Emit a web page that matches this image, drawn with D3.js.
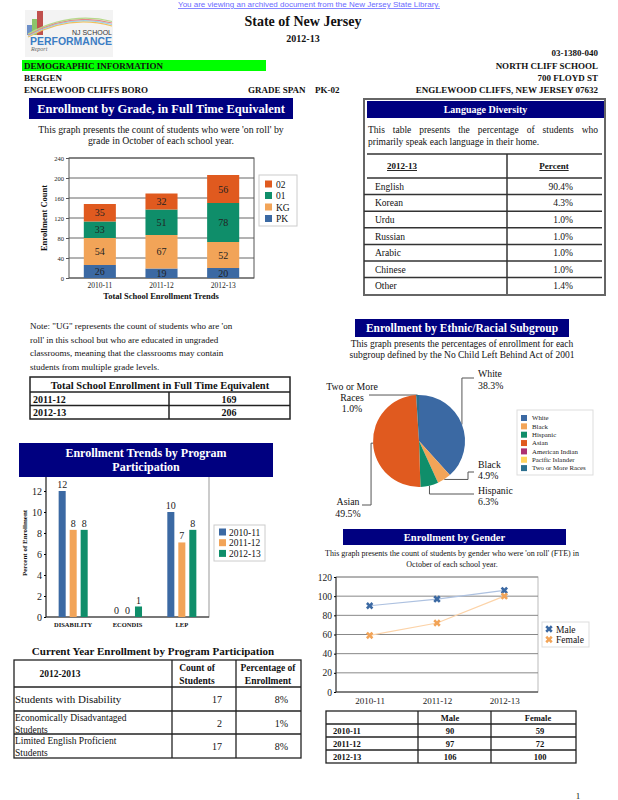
<!DOCTYPE html>
<html>
<head>
<meta charset="utf-8">
<script src="https://cdn.jsdelivr.net/npm/d3@7"></script>
<style>
  body { margin: 0; background: #fff; }
  svg { display: block; font-family: "Liberation Serif", "Times New Roman", serif; }
</style>
</head>
<body>
<svg id="page" width="618" height="800"></svg>
<script>
// ---- datos ----
var years = ["2010-11", "2011-12", "2012-13"];

var grades   = ["PK", "KG", "01", "02"];
var gradePK  = [26, 19, 20];
var gradeKG  = [54, 67, 52];
var grade01  = [33, 51, 78];
var grade02  = [35, 32, 56];
var gradeTicks = [0, 40, 80, 120, 160, 200, 240];

var langNames   = ["English", "Korean", "Urdu", "Russian", "Arabic", "Chinese", "Other"];
var langPercent = ["90.4%", "4.3%", "1.0%", "1.0%", "1.0%", "1.0%", "1.4%"];

var totalYears = ["2011-12", "2012-13"];
var totalFTE   = [169, 206];

var ethnicGroups = ["White", "Black", "Hispanic", "Asian", "American Indian", "Pacific Islander", "Two or More Races"];
var ethnicPct    = [38.3, 4.9, 6.3, 49.5, 0, 0, 1.0];

var programs  = ["DISABILITY", "ECONDIS", "LEP"];
var prog1011  = [12, 0, 10];
var prog1112  = [8.3, 0, 7.1];
var prog1213  = [8.3, 1.0, 8.3];
var progTicks = [0, 2, 4, 6, 8, 10, 12];

var progRowNames = [["Students with Disability"], ["Economically Disadvantaged", "Students"], ["Limited English Proficient", "Students"]];
var progCounts   = [17, 2, 17];
var progPercents = ["8%", "1%", "8%"];

var genderMale   = [90, 97, 106];
var genderFemale = [59, 72, 100];
var genderTicks  = [0, 20, 40, 60, 80, 100, 120];

// ---- colores ----
var navy = "#000080";
var cBlue = "#3b69a3", cOrange = "#f2a458", cGreen = "#0f8e6a", cRed = "#e05a1f";

var svg = d3.select("#page");

function txt(g, x, y, s, size, opts) {
    opts = opts || {};
    var t = g.append("text")
        .attr("x", x).attr("y", y)
        .attr("font-size", size)
        .attr("text-anchor", opts.anchor || "start")
        .attr("fill", opts.fill || "#111")
        .text(s);
    if (opts.bold) t.attr("font-weight", "bold");
    if (opts.family) t.attr("font-family", opts.family);
    if (opts.italic) t.attr("font-style", "italic");
    if (opts.underline) t.attr("text-decoration", "underline");
    return t;
}

function titleBar(x, y, w, h, lines, size) {
    svg.append("rect").attr("x", x).attr("y", y).attr("width", w).attr("height", h).attr("fill", navy);
    var lh = size * 1.2;
    var y0 = y + h / 2 - (lines.length - 1) * lh / 2 + size * 0.35;
    lines.forEach(function (l, i) {
        txt(svg, x + w / 2, y0 + i * lh, l, size, {anchor: "middle", bold: true, fill: "#fff"});
    });
}

// justificar una linea repartiendo espacio entre palabras
function justify(g, s, x0, x1, y, size) {
    var words = s.split(" ");
    var nodes = words.map(function (w) { return txt(g, 0, y, w, size); });
    var widths = nodes.map(function (n) { return n.node().getComputedTextLength(); });
    var gap = (x1 - x0 - d3.sum(widths)) / (words.length - 1);
    var x = x0;
    nodes.forEach(function (n, i) { n.attr("x", x); x += widths[i] + gap; });
}

// ---- encabezado ----
txt(svg, 309, 7, "You are viewing an archived document from the New Jersey State Library.", 8,
    {anchor: "middle", fill: "#6a6aff", family: "Liberation Sans, Arial, sans-serif", underline: true});

// logo
var logo = svg.append("g");
logo.append("rect").attr("x", 25).attr("y", 10).attr("width", 88).attr("height", 47).attr("fill", "#f3f3f3");
logo.append("rect").attr("x", 27).attr("y", 25).attr("width", 5).attr("height", 10).attr("fill", "#6d8fc8");
logo.append("rect").attr("x", 32).attr("y", 19).attr("width", 5).attr("height", 16).attr("fill", "#8cc46a");
logo.append("rect").attr("x", 37).attr("y", 11).attr("width", 6).attr("height", 24).attr("fill", "#c0504d");
["#f4c05a", "#9cd3e8", "#e68a8a", "#b7d98b"].forEach(function (c, i) {
    logo.append("path")
        .attr("d", "M28," + (37 - i) + " Q70," + (14 - i) + " 112," + (26 - i * 1.5))
        .attr("fill", "none").attr("stroke", c).attr("stroke-width", 1.2);
});
txt(logo, 112, 35, "NJ SCHOOL", 7, {anchor: "end", fill: "#333", family: "Liberation Sans, Arial, sans-serif"});
txt(logo, 30, 45, "PERFORMANCE", 10, {bold: true, fill: "#3b7dc4", family: "Liberation Sans, Arial, sans-serif"})
    .attr("textLength", 82).attr("lengthAdjust", "spacingAndGlyphs");
txt(logo, 31, 51, "Report", 6, {italic: true, fill: "#666"});

txt(svg, 303, 26, "State of New Jersey", 14, {anchor: "middle", bold: true});
txt(svg, 303, 42, "2012-13", 10, {anchor: "middle", bold: true});
txt(svg, 598, 56, "03-1380-040", 9, {anchor: "end", bold: true});
svg.append("rect").attr("x", 22).attr("y", 60).attr("width", 244).attr("height", 11).attr("fill", "#00ff00");
txt(svg, 24, 69, "DEMOGRAPHIC INFORMATION", 9, {bold: true});
txt(svg, 598, 69, "NORTH CLIFF SCHOOL", 9, {anchor: "end", bold: true});
txt(svg, 24, 81, "BERGEN", 9, {bold: true});
txt(svg, 598, 81, "700 FLOYD ST", 9, {anchor: "end", bold: true});
txt(svg, 24, 93, "ENGLEWOOD CLIFFS BORO", 9, {bold: true});
txt(svg, 248, 93, "GRADE SPAN", 9, {bold: true});
txt(svg, 315, 93, "PK-02", 9, {bold: true});
txt(svg, 598, 93, "ENGLEWOOD CLIFFS, NEW JERSEY 07632", 9, {anchor: "end", bold: true});

// ---- Enrollment by Grade ----
function buildGradeChart() {
    titleBar(29, 98, 264, 21, ["Enrollment by Grade, in Full Time Equivalent"], 12.5);
    txt(svg, 161, 133, "This graph presents the count of students who were 'on roll' by", 9.8, {anchor: "middle"});
    txt(svg, 161, 144, "grade in October of each school year.", 9.8, {anchor: "middle"});

    var left = 69, right = 254, top = 158, bottom = 278;
    var rows = years.map(function (y, i) {
        return {year: y, PK: gradePK[i], KG: gradeKG[i], "01": grade01[i], "02": grade02[i]};
    });
    var stack = d3.stack().keys(grades)(rows);
    var color = d3.scaleOrdinal().domain(grades).range([cBlue, cOrange, cGreen, cRed]);

    var x = d3.scaleBand().domain(years).range([left, right]).paddingInner(0.48).paddingOuter(0.24);
    var y = d3.scaleLinear().domain([0, 240]).range([bottom, top]);

    var g = svg.append("g");
    g.selectAll(".grid").data(gradeTicks).enter().append("line")
        .attr("x1", left).attr("x2", right)
        .attr("y1", function (d) { return y(d); }).attr("y2", function (d) { return y(d); })
        .attr("stroke", "#666").attr("stroke-width", 1);
    g.append("rect").attr("x", left).attr("y", top).attr("width", right - left).attr("height", bottom - top)
        .attr("fill", "none").attr("stroke", "#555");

    var layer = g.selectAll(".layer").data(stack).enter().append("g")
        .attr("fill", function (d) { return color(d.key); });
    layer.selectAll("rect").data(function (d) { return d; }).enter().append("rect")
        .attr("x", function (d) { return x(d.data.year); })
        .attr("y", function (d) { return y(d[1]); })
        .attr("width", x.bandwidth())
        .attr("height", function (d) { return y(d[0]) - y(d[1]); });
    layer.selectAll("text").data(function (d) { return d; }).enter().append("text")
        .attr("x", function (d) { return x(d.data.year) + x.bandwidth() / 2; })
        .attr("y", function (d) { return (y(d[0]) + y(d[1])) / 2 + 3.5; })
        .attr("text-anchor", "middle").attr("font-size", 10).attr("fill", "#222")
        .text(function (d) { return d[1] - d[0]; });

    var yAxis = d3.axisLeft(y).tickValues(gradeTicks).tickSize(3).tickPadding(2);
    var ya = g.append("g").attr("transform", "translate(" + left + ",0)").call(yAxis);
    ya.select(".domain").remove();
    ya.selectAll("text").attr("font-size", 6.5).attr("font-family", "Liberation Serif, serif").attr("fill", "#222");
    ya.selectAll("line").attr("stroke", "#555");

    var xAxis = d3.axisBottom(x).tickSize(0).tickPadding(5);
    var xa = g.append("g").attr("transform", "translate(0," + bottom + ")").call(xAxis);
    xa.select(".domain").remove();
    xa.selectAll("text").attr("font-size", 7.5).attr("font-family", "Liberation Serif, serif").attr("fill", "#222");

    txt(g, 161, 299, "Total School Enrollment Trends", 8.5, {anchor: "middle", bold: true});
    txt(g, 0, 0, "Enrollment Count", 8.5, {anchor: "middle", bold: true})
        .attr("transform", "translate(47," + (top + bottom) / 2 + ") rotate(-90)");

    // leyenda
    var lg = g.append("g");
    lg.append("rect").attr("x", 259).attr("y", 175).attr("width", 38).attr("height", 51)
        .attr("fill", "#fff").attr("stroke", "#ccc");
    grades.slice().reverse().forEach(function (k, i) {
        lg.append("rect").attr("x", 265).attr("y", 180.5 + i * 11.5).attr("width", 7).attr("height", 7).attr("fill", color(k));
        txt(lg, 276, 187.5 + i * 11.5, k, 9.5);
    });
}

// ---- Language Diversity ----
function buildLanguageTable() {
    var g = svg.append("g");
    g.append("rect").attr("x", 364).attr("y", 99).attr("width", 241).attr("height", 196)
        .attr("fill", "none").attr("stroke", "#666").attr("stroke-width", 2);
    titleBar(367, 101, 237, 17, ["Language Diversity"], 10);
    justify(g, "This table presents the percentage of students who", 368, 598, 133, 9.5);
    txt(g, 368, 145, "primarily speak each language in their home.", 9.5);

    var rowTop = 178, rowH = 16.6;
    var lines = [154].concat(langNames.map(function (d, i) { return rowTop + i * rowH; }));
    g.selectAll(".hl").data(lines).enter().append("line")
        .attr("x1", function (d, i) { return i < 2 ? 367 : 364; }).attr("x2", 602)
        .attr("y1", function (d) { return d; }).attr("y2", function (d) { return d; })
        .attr("stroke", "#333").attr("stroke-width", 1.5);
    g.append("line").attr("x1", 507).attr("x2", 507).attr("y1", 154).attr("y2", 294)
        .attr("stroke", "#333").attr("stroke-width", 1.5);

    txt(g, 402, 169, "2012-13", 9, {anchor: "middle", bold: true, underline: true});
    txt(g, 554, 169, "Percent", 9, {anchor: "middle", bold: true, underline: true});
    langNames.forEach(function (n, i) {
        var yy = rowTop + i * rowH + rowH / 2 + 3.5;
        txt(g, 375, yy, n, 9.5);
        txt(g, 573, yy, langPercent[i], 9.5, {anchor: "end"});
    });
}

// ---- nota y total ----
function buildNoteAndTotal() {
    var g = svg.append("g");
    ["Note: \"UG\" represents the count of students who are 'on",
     "roll' in this school but who are educated in ungraded",
     "classrooms, meaning that the classrooms may contain",
     "students from multiple grade levels."].forEach(function (l, i) {
        txt(g, 30, 329 + i * 13.7, l, 9);
    });

    var x0 = 30, x1 = 290, ys = [377, 392, 405.5, 419];
    g.append("rect").attr("x", x0).attr("y", ys[0]).attr("width", x1 - x0).attr("height", ys[3] - ys[0])
        .attr("fill", "none").attr("stroke", "#222").attr("stroke-width", 1.5);
    [ys[1], ys[2]].forEach(function (yy) {
        g.append("line").attr("x1", x0).attr("x2", x1).attr("y1", yy).attr("y2", yy).attr("stroke", "#222").attr("stroke-width", 1.5);
    });
    g.append("line").attr("x1", 169).attr("x2", 169).attr("y1", ys[1]).attr("y2", ys[3]).attr("stroke", "#222").attr("stroke-width", 1.5);
    txt(g, 160, 389, "Total School Enrollment in Full Time Equivalent", 10.5, {anchor: "middle", bold: true});
    totalYears.forEach(function (yr, i) {
        txt(g, 33, ys[i + 1] + 10.5, yr, 10, {bold: true});
        txt(g, 229, ys[i + 1] + 10.5, totalFTE[i], 10, {anchor: "middle", bold: true});
    });
}

// ---- Ethnic pie ----
function buildEthnicPie() {
    titleBar(355, 319, 214, 18, ["Enrollment by Ethnic/Racial Subgroup"], 11.5);
    txt(svg, 462, 347, "This graph presents the percentages of enrollment for each", 9.5, {anchor: "middle"});
    txt(svg, 462, 358, "subgroup defined by the No Child Left Behind Act of 2001", 9.5, {anchor: "middle"});

    var cx = 419, cy = 441, r = 46;
    var color = d3.scaleOrdinal().domain(ethnicGroups)
        .range([cBlue, cOrange, cGreen, cRed, "#ad2f72", "#ffd35e", "#2b6f8e"]);
    var arcs = d3.pie().sort(null).value(function (d) { return d; })(ethnicPct);
    var g = svg.append("g");

    function edge(a) {
        var m = (a.startAngle + a.endAngle) / 2;
        return [cx + r * Math.sin(m), cy - r * Math.cos(m)];
    }
    var p0 = edge(arcs[0]), p1 = edge(arcs[1]), p2 = edge(arcs[2]), p3 = edge(arcs[3]), p6 = edge(arcs[6]);
    var leaders = [
        [p0, [p0[0], 378], [474, 378]],
        [p1, [468, p1[1]], [468, 472], [474, 472]],
        [p2, [p2[0], 494], [474, 494]],
        [p3, [p3[0] - 2, p3[1]], [p3[0] - 2, 505], [362, 505]],
        [p6, [369, p6[1]]]
    ];
    g.selectAll(".leader").data(leaders).enter().append("path")
        .attr("d", d3.line())
        .attr("fill", "none").attr("stroke", "#555").attr("stroke-width", 1);

    var arc = d3.arc().innerRadius(0).outerRadius(r);
    g.append("g").attr("transform", "translate(" + cx + "," + cy + ")")
        .selectAll("path").data(arcs).enter().append("path")
        .attr("d", arc)
        .attr("fill", function (d, i) { return color(ethnicGroups[i]); });

    function pct(i) { return ethnicPct[i].toFixed(1) + "%"; }
    var fs = 9.8;
    txt(g, 478, 377, ethnicGroups[0], fs); txt(g, 478, 388.5, pct(0), fs);
    txt(g, 478, 468, ethnicGroups[1], fs); txt(g, 478, 479, pct(1), fs);
    txt(g, 478, 493.5, ethnicGroups[2], fs); txt(g, 478, 504.5, pct(2), fs);
    txt(g, 348, 505, ethnicGroups[3], fs, {anchor: "middle"}); txt(g, 348, 516.5, pct(3), fs, {anchor: "middle"});
    txt(g, 352, 390, "Two or More", fs, {anchor: "middle"});
    txt(g, 352, 400.5, "Races", fs, {anchor: "middle"});
    txt(g, 352, 411.5, pct(6), fs, {anchor: "middle"});

    var lg = g.append("g");
    lg.append("rect").attr("x", 517).attr("y", 410).attr("width", 76).attr("height", 65)
        .attr("fill", "#fff").attr("stroke", "#ddd");
    ethnicGroups.forEach(function (k, i) {
        var yy = 418 + i * 8.35;
        lg.append("rect").attr("x", 521).attr("y", yy - 3).attr("width", 6).attr("height", 6).attr("fill", color(k));
        txt(lg, 532, yy + 2.3, k, 6.8, {fill: "#222"});
    });
}

// ---- Program participation ----
function buildProgramChart() {
    var left = 46, right = 209, top = 470, bottom = 617;
    var series = [prog1011, prog1112, prog1213];
    var color = d3.scaleOrdinal().domain(years).range([cBlue, cOrange, cGreen]);
    var x = d3.scaleBand().domain(programs).range([left, right]);
    var xi = d3.scaleBand().domain(years).range([-16.5, 16.5]).paddingInner(0.36).paddingOuter(0.18);
    var y = d3.scaleLinear().domain([0, 14]).range([bottom, top]);

    var g = svg.append("g");
    g.append("rect").attr("x", left).attr("y", top).attr("width", right - left).attr("height", bottom - top)
        .attr("fill", "none").attr("stroke", "#999");
    g.append("line").attr("x1", left).attr("x2", right).attr("y1", bottom).attr("y2", bottom).attr("stroke", "#222");
    g.append("line").attr("x1", left).attr("x2", left).attr("y1", top).attr("y2", bottom).attr("stroke", "#222");

    var data = [];
    programs.forEach(function (p, i) {
        years.forEach(function (yr, j) { data.push({prog: p, year: yr, value: series[j][i]}); });
    });
    var bar = g.selectAll(".bar").data(data).enter().append("g")
        .attr("transform", function (d) { return "translate(" + (x(d.prog) + x.bandwidth() / 2 + xi(d.year)) + ",0)"; });
    bar.append("rect")
        .attr("y", function (d) { return y(d.value); })
        .attr("width", xi.bandwidth())
        .attr("height", function (d) { return bottom - y(d.value); })
        .attr("fill", function (d) { return color(d.year); });
    bar.append("text")
        .attr("x", xi.bandwidth() / 2)
        .attr("y", function (d) { return y(d.value) - 3; })
        .attr("text-anchor", "middle").attr("font-size", 10).attr("fill", "#222")
        .text(function (d) { return Math.round(d.value); });

    var ya = g.append("g").attr("transform", "translate(" + left + ",0)")
        .call(d3.axisLeft(y).tickValues(progTicks).tickSize(2).tickPadding(2));
    ya.select(".domain").remove();
    ya.selectAll("text").attr("font-size", 10).attr("font-family", "Liberation Serif, serif").attr("fill", "#222");

    var xa = g.append("g").attr("transform", "translate(0," + bottom + ")")
        .call(d3.axisBottom(x).tickSize(0).tickPadding(5));
    xa.select(".domain").remove();
    xa.selectAll("text").attr("font-size", 6.5).attr("font-weight", "bold")
        .attr("font-family", "Liberation Serif, serif").attr("fill", "#111");

    txt(g, 0, 0, "Percent of Enrollment", 7, {anchor: "middle", bold: true})
        .attr("transform", "translate(27,543) rotate(-90)");

    titleBar(19, 443, 254, 34, ["Enrollment Trends by Program", "Participation"], 12);

    var lg = g.append("g");
    lg.append("rect").attr("x", 214).attr("y", 525).attr("width", 51).attr("height", 36)
        .attr("fill", "#fff").attr("stroke", "#ccc");
    years.forEach(function (yr, i) {
        lg.append("rect").attr("x", 219).attr("y", 528.5 + i * 10.7).attr("width", 7).attr("height", 7).attr("fill", color(yr));
        txt(lg, 229, 535.5 + i * 10.7, yr, 9.5);
    });
}

// ---- Current year table ----
function buildProgramTable() {
    var g = svg.append("g");
    txt(g, 153, 655, "Current Year Enrollment by Program Participation", 11, {anchor: "middle", bold: true});
    var x0 = 14, x1 = 301, ys = [660, 687, 711, 734, 758], cols = [172, 236];
    g.append("rect").attr("x", x0).attr("y", ys[0]).attr("width", x1 - x0).attr("height", ys[4] - ys[0])
        .attr("fill", "none").attr("stroke", "#222").attr("stroke-width", 1.3);
    ys.slice(1, 4).forEach(function (yy) {
        g.append("line").attr("x1", x0).attr("x2", x1).attr("y1", yy).attr("y2", yy).attr("stroke", "#222").attr("stroke-width", 1.3);
    });
    cols.forEach(function (xx) {
        g.append("line").attr("x1", xx).attr("x2", xx).attr("y1", ys[0]).attr("y2", ys[4]).attr("stroke", "#222").attr("stroke-width", 1.3);
    });
    txt(g, 60, 677, "2012-2013", 9.5, {anchor: "middle", bold: true});
    txt(g, 197, 671, "Count of", 9.5, {anchor: "middle", bold: true});
    txt(g, 197, 684, "Students", 9.5, {anchor: "middle", bold: true});
    txt(g, 268, 671, "Percentage of", 9.5, {anchor: "middle", bold: true});
    txt(g, 268, 684, "Enrollment", 9.5, {anchor: "middle", bold: true});

    progRowNames.forEach(function (lines, i) {
        var mid = (ys[i + 1] + ys[i + 2]) / 2;
        if (lines.length === 1) {
            txt(g, 15, mid + 4, lines[0], 11);
        } else {
            txt(g, 15, mid - 2, lines[0], 9.5);
            txt(g, 15, mid + 10, lines[1], 9.5);
        }
        txt(g, 222, mid + 4, progCounts[i], 10, {anchor: "end"});
        txt(g, 288, mid + 4, progPercents[i], 10, {anchor: "end"});
    });
}

// ---- Gender chart ----
function buildGenderChart() {
    titleBar(343, 529, 223, 16, ["Enrollment by Gender"], 10.5);
    txt(svg, 452, 556, "This graph presents the count of students by gender who were 'on roll' (FTE) in", 8, {anchor: "middle"});
    txt(svg, 452, 567, "October of each school year.", 8, {anchor: "middle"});

    var left = 336, right = 538, top = 577, bottom = 692;
    var x = d3.scalePoint().domain(years).range([left, right]).padding(0.5);
    var y = d3.scaleLinear().domain([0, 120]).range([bottom, top]);
    var g = svg.append("g");

    g.append("rect").attr("x", left).attr("y", top).attr("width", right - left).attr("height", bottom - top)
        .attr("fill", "none").attr("stroke", "#bbb");
    g.selectAll(".grid").data(genderTicks.slice(1)).enter().append("line")
        .attr("x1", left).attr("x2", right)
        .attr("y1", function (d) { return y(d); }).attr("y2", function (d) { return y(d); })
        .attr("stroke", "#888");
    g.append("line").attr("x1", left).attr("x2", right).attr("y1", bottom).attr("y2", bottom).attr("stroke", "#222");
    g.append("line").attr("x1", left).attr("x2", left).attr("y1", top).attr("y2", bottom).attr("stroke", "#222");

    var ya = g.append("g").attr("transform", "translate(" + left + ",0)")
        .call(d3.axisLeft(y).tickValues(genderTicks).tickSize(2).tickPadding(2));
    ya.select(".domain").remove();
    ya.selectAll("text").attr("font-size", 9.5).attr("font-family", "Liberation Serif, serif").attr("fill", "#222");
    var xa = g.append("g").attr("transform", "translate(0," + bottom + ")")
        .call(d3.axisBottom(x).tickSize(0).tickPadding(6));
    xa.select(".domain").remove();
    xa.selectAll("text").attr("font-size", 9).attr("font-family", "Liberation Serif, serif").attr("fill", "#222");

    var series = [
        {name: "Male", values: genderMale, line: "#adc1e0", mark: cBlue},
        {name: "Female", values: genderFemale, line: "#fcd3a8", mark: cOrange}
    ];
    var line = d3.line().x(function (d, i) { return x(years[i]); }).y(function (d) { return y(d); });
    var cross = d3.symbol().type(d3.symbolCross).size(34);

    series.forEach(function (s) {
        g.append("path").attr("d", line(s.values)).attr("fill", "none").attr("stroke", s.line).attr("stroke-width", 1.2);
        g.selectAll(null).data(s.values).enter().append("path")
            .attr("d", cross)
            .attr("transform", function (d, i) { return "translate(" + x(years[i]) + "," + y(d) + ") rotate(45)"; })
            .attr("fill", s.mark);
    });

    var lg = g.append("g");
    lg.append("rect").attr("x", 542).attr("y", 622).attr("width", 47).attr("height", 25)
        .attr("fill", "#fff").attr("stroke", "#ddd");
    series.forEach(function (s, i) {
        lg.append("path").attr("d", cross)
            .attr("transform", "translate(549," + (629 + i * 10.5) + ") rotate(45)").attr("fill", s.mark);
        txt(lg, 556, 632.5 + i * 10.5, s.name, 9.5);
    });
}

// ---- Gender table ----
function buildGenderTable() {
    var g = svg.append("g");
    var x0 = 326, x1 = 576, ys = [711, 724, 737, 750, 763], cols = [418, 491];
    g.append("rect").attr("x", x0).attr("y", ys[0]).attr("width", x1 - x0).attr("height", ys[4] - ys[0])
        .attr("fill", "none").attr("stroke", "#222").attr("stroke-width", 1.3);
    ys.slice(1, 4).forEach(function (yy) {
        g.append("line").attr("x1", x0).attr("x2", x1).attr("y1", yy).attr("y2", yy).attr("stroke", "#222").attr("stroke-width", 1.3);
    });
    cols.forEach(function (xx) {
        g.append("line").attr("x1", xx).attr("x2", xx).attr("y1", ys[0]).attr("y2", ys[4]).attr("stroke", "#222").attr("stroke-width", 1.3);
    });
    txt(g, 450, 721, "Male", 8.5, {anchor: "middle", bold: true});
    txt(g, 538, 721, "Female", 8.5, {anchor: "middle", bold: true});
    years.forEach(function (yr, i) {
        var yy = ys[i + 1] + 10;
        txt(g, 333, yy, yr, 8.5, {bold: true});
        txt(g, 450, yy, genderMale[i], 8.5, {anchor: "middle", bold: true});
        txt(g, 540, yy, genderFemale[i], 8.5, {anchor: "middle", bold: true});
    });
}

buildGradeChart();
buildLanguageTable();
buildNoteAndTotal();
buildEthnicPie();
buildProgramChart();
buildProgramTable();
buildGenderChart();
buildGenderTable();
txt(svg, 578, 799, "1", 9, {anchor: "middle"});
</script>
</body>
</html>
